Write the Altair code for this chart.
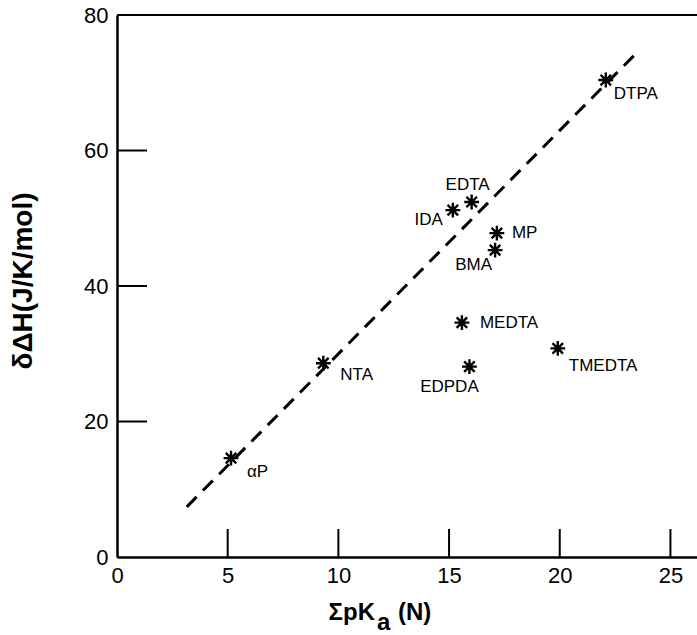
import altair as alt
import pandas as pd

# data
names = ["αP", "NTA", "IDA", "EDTA", "MP", "BMA", "MEDTA", "EDPDA", "TMEDTA", "DTPA"]
spka = [5.15, 9.32, 15.17, 16.02, 17.16, 17.08, 15.58, 15.92, 19.91, 22.08]
ddh = [14.6, 28.6, 51.2, 52.4, 47.8, 45.3, 34.6, 28.1, 30.8, 70.4]

fit_x = [3.15, 23.5]
fit_y = [7.4, 74.5]

x_ticks = [0, 5, 10, 15, 20, 25]
y_ticks = [0, 20, 40, 60, 80]
x_inner_ticks = [5, 10, 15, 20, 25]
y_inner_ticks = [20, 40, 60]

W, H = 580, 542
FONT = "Liberation Sans"

pts = pd.DataFrame({"name": names, "x": spka, "y": ddh})
fit = pd.DataFrame({"x": fit_x, "y": fit_y})

xs = alt.Scale(domain=[0, 26.2], nice=False, zero=False)
ys = alt.Scale(domain=[0, 80], nice=False, zero=False)

star = "M0,-1L0,1M-1,0L1,0M-0.71,-0.71L0.71,0.71M-0.71,0.71L0.71,-0.71"

base = alt.Chart(pts)

points = base.mark_point(shape=star, filled=False, stroke="black", strokeWidth=2.4,
                         size=220, opacity=1).encode(
    x=alt.X("x:Q", scale=xs,
            axis=alt.Axis(values=x_ticks, title=None, ticks=False, grid=False,
                          domainColor="black", domainWidth=2.5, labelFont=FONT,
                          labelFontSize=22, labelColor="black", labelPadding=8,
                          format="d", labelFlush=False)),
    y=alt.Y("y:Q", scale=ys,
            axis=alt.Axis(values=y_ticks, title=None, ticks=False, grid=False,
                          domainColor="black", domainWidth=2.5, labelFont=FONT,
                          labelFontSize=22, labelColor="black", labelPadding=9,
                          format="d", labelFlush=False)),
)

line = alt.Chart(fit).mark_line(color="black", strokeWidth=3, strokeDash=[14, 9]).encode(
    x=alt.X("x:Q", scale=xs), y=alt.Y("y:Q", scale=ys))

label_style = {
    "αP": ("left", 16, 14),
    "NTA": ("left", 17, 12),
    "IDA": ("right", -10, 10),
    "EDTA": ("center", -4, -17),
    "MP": ("left", 15, 0),
    "BMA": ("right", -3, 15),
    "MEDTA": ("left", 18, 0),
    "EDPDA": ("center", -20, 20),
    "TMEDTA": ("left", 11, 18),
    "DTPA": ("left", 8, 14),
}
labels = []
for n in names:
    a, dx, dy = label_style[n]
    labels.append(
        base.transform_filter(alt.datum.name == n).mark_text(
            align=a, baseline="middle", dx=dx, dy=dy, font=FONT, fontSize=17,
            color="black").encode(
            x=alt.X("x:Q", scale=xs), y=alt.Y("y:Q", scale=ys), text="name:N"))

xt = pd.DataFrame({"v": x_inner_ticks})
yt = pd.DataFrame({"v": y_inner_ticks})
xtick_rules = alt.Chart(xt).mark_rule(color="black", strokeWidth=2).encode(
    x=alt.X("v:Q", scale=xs), y=alt.value(H), y2=alt.value(H - 28))
ytick_rules = alt.Chart(yt).mark_rule(color="black", strokeWidth=2).encode(
    y=alt.Y("v:Q", scale=ys), x=alt.value(0), x2=alt.value(30))

one = pd.DataFrame({"k": [0]})
top_line = alt.Chart(one).mark_rule(color="black", strokeWidth=2.2).encode(
    x=alt.value(0), x2=alt.value(W), y=alt.value(0))

ytitle = alt.Chart(pd.DataFrame({"t": ["δΔH(J/K/mol)"]})).mark_text(
    angle=270, align="center", baseline="alphabetic", font=FONT, fontSize=28,
    fontWeight="bold", color="black").encode(
    text="t:N", x=alt.value(-85), y=alt.value(266))

xt1 = alt.Chart(pd.DataFrame({"t": ["ΣpK"]})).mark_text(
    align="right", baseline="alphabetic", font=FONT, fontSize=24, fontWeight="bold",
    color="black").encode(text="t:N", x=alt.value(258), y=alt.value(605))
xt2 = alt.Chart(pd.DataFrame({"t": ["a"]})).mark_text(
    align="left", baseline="alphabetic", font=FONT, fontSize=24, fontWeight="bold",
    color="black").encode(text="t:N", x=alt.value(260), y=alt.value(615))
xt3 = alt.Chart(pd.DataFrame({"t": ["(N)"]})).mark_text(
    align="left", baseline="alphabetic", font=FONT, fontSize=24, fontWeight="bold",
    color="black").encode(text="t:N", x=alt.value(281), y=alt.value(605))

chart = alt.layer(line, points, *labels, xtick_rules, ytick_rules, top_line,
                  ytitle, xt1, xt2, xt3).properties(
    width=W, height=H,
    autosize=alt.AutoSizeParams(type="none"),
    padding={"left": 117, "top": 15, "right": 0, "bottom": 78},
).configure_view(stroke=None).configure(background="white")

chart.save("out.html", embed_options={"renderer": "svg", "actions": False})
